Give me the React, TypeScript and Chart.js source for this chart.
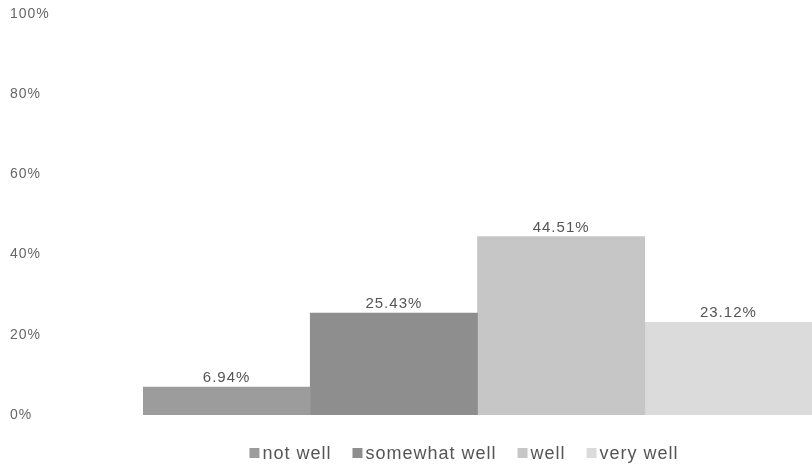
import React, { useEffect, useRef } from "react";
import { Chart, registerables } from "chart.js";

Chart.register(...registerables);

const categories = [""];
const seriesNames = ["not well", "somewhat well", "well", "very well"];
const seriesValues = [6.94, 25.43, 44.51, 23.12];
const seriesColors = ["#9c9c9c", "#8e8e8e", "#c6c6c6", "#dbdbdb"];
const yTicks = [0, 20, 40, 60, 80, 100];

const FONT = "'Liberation Sans', Arial, sans-serif";

const spacing = {
  id: "spacing",
  beforeDraw(chart: any) {
    chart.ctx.letterSpacing = "1px";
  },
};

const valueLabels = {
  id: "valueLabels",
  afterDatasetsDraw(chart: any) {
    const ctx = chart.ctx;
    ctx.save();
    ctx.letterSpacing = "1px";
    ctx.font = `15px ${FONT}`;
    ctx.fillStyle = "#555";
    ctx.textAlign = "center";
    ctx.textBaseline = "alphabetic";
    chart.data.datasets.forEach((ds: any, i: number) => {
      const meta = chart.getDatasetMeta(i);
      meta.data.forEach((el: any, j: number) => {
        const v = ds.data[j];
        ctx.fillText(v.toFixed(2) + "%", el.x, el.y - 5);
      });
    });
    ctx.restore();
  },
};

const customLegend = {
  id: "customLegend",
  afterDraw(chart: any) {
    const ctx = chart.ctx;
    ctx.save();
    ctx.letterSpacing = "1px";
    ctx.font = `18px ${FONT}`;
    ctx.textBaseline = "middle";
    ctx.textAlign = "left";
    const box = 10;
    const gap = 3;
    const itemGap = 21;
    const items = chart.data.datasets.map((ds: any) => ({
      label: ds.label,
      color: ds.backgroundColor,
      w: box + gap + ctx.measureText(ds.label).width,
    }));
    const total =
      items.reduce((s: number, it: any) => s + it.w, 0) + itemGap * (items.length - 1);
    let x = 464 - total / 2;
    const y = 453;
    items.forEach((it: any) => {
      ctx.fillStyle = it.color;
      ctx.fillRect(x, y - box / 2, box, box);
      ctx.fillStyle = "#555";
      ctx.fillText(it.label, x + box + gap, y + 1);
      x += it.w + itemGap;
    });
    ctx.restore();
  },
};

export default function App() {
  const ref = useRef<HTMLCanvasElement>(null);
  useEffect(() => {
    if (!ref.current) return;
    const chart = new Chart(ref.current, {
      type: "bar",
      data: {
        labels: categories,
        datasets: seriesNames.map((name, i) => ({
          label: name,
          data: [seriesValues[i]],
          backgroundColor: seriesColors[i],
          borderWidth: 0,
          categoryPercentage: 1,
          barPercentage: 1,
        })),
      },
      options: {
        animation: false,
        responsive: false,
        maintainAspectRatio: false,
        layout: { padding: { top: 14, bottom: 53, left: 10, right: 0 } },
        plugins: {
          legend: { display: false },
          tooltip: { enabled: false },
        },
        scales: {
          x: { display: false },
          y: {
            min: 0,
            max: 100,
            afterBuildTicks: (axis: any) => {
              axis.ticks = yTicks.map((v) => ({ value: v }));
            },
            afterFit: (axis: any) => {
              axis.width = 133;
            },
            grid: { display: false },
            border: { display: false },
            ticks: {
              crossAlign: "far",
              color: "#666",
              font: { family: FONT, size: 14 },
              callback: (v: any) => v + "%",
            },
          },
        },
      },
      plugins: [spacing, valueLabels, customLegend],
    });
    return () => chart.destroy();
  }, []);
  return (
    <div style={{ position: "fixed", left: 0, top: 0, width: 812, height: 468, background: "#fff" }}>
      <canvas ref={ref} width={812} height={468} style={{ width: 812, height: 468 }} />
    </div>
  );
}
